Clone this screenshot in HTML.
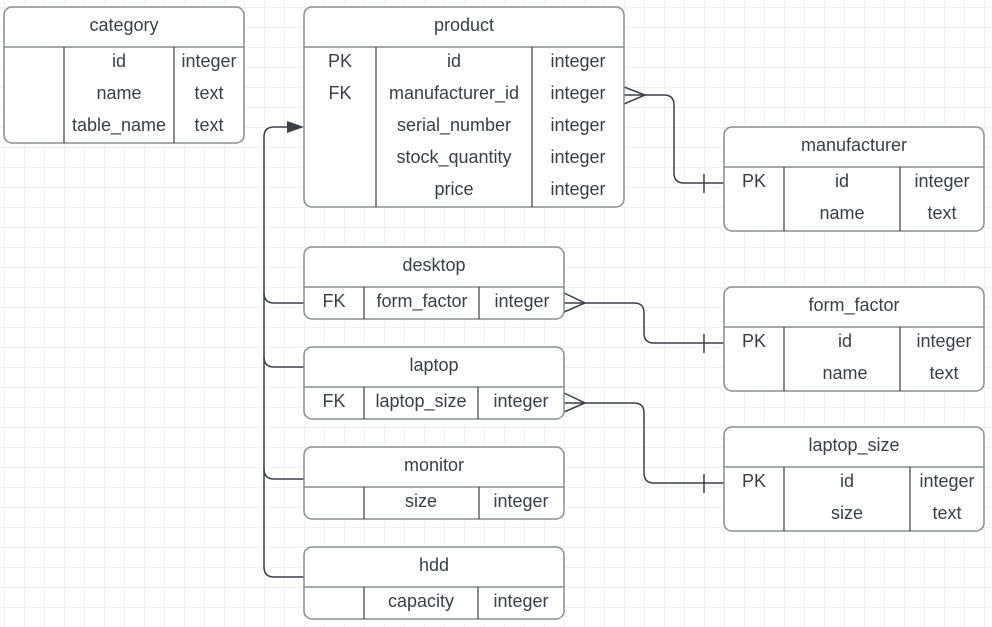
<!DOCTYPE html>
<html><head><meta charset="utf-8"><style>
html,body{margin:0;padding:0;background:#fff;}
svg{display:block;font-family:"Liberation Sans",sans-serif;}
text{fill:#3a3e47;font-size:18px;text-anchor:middle;}
</style></head><body>
<svg width="992" height="627" viewBox="0 0 992 627" xmlns="http://www.w3.org/2000/svg">
<defs>
<pattern id="g" x="4" y="7" width="20" height="20" patternUnits="userSpaceOnUse">
<path d="M0 0H20M0 0V20" stroke="#e3e3e3" stroke-width="1" fill="none"/>
</pattern>
</defs>
<rect width="992" height="627" fill="url(#g)"/>

<g fill="none" stroke="#3a3e47" stroke-width="1.5">
<path d="M296 127H274Q264 127 264 137V567Q264 577 274 577H304"/>
<path d="M264 293Q264 303 274 303H304"/>
<path d="M264 357Q264 367 274 367H304"/>
<path d="M264 469Q264 479 274 479H304"/>
<path d="M624 95H664Q674 95 674 105V173Q674 183 684 183H724"/>
<path d="M624 87L645 95L624 104"/>
<path d="M704 174V193"/>
<path d="M564 303H634Q644 303 644 313V333Q644 343 654 343H724"/>
<path d="M564 293L585 303L564 312"/>
<path d="M704 334V353"/>
<path d="M564 403H634Q644 403 644 413V473Q644 483 654 483H724"/>
<path d="M564 393L585 403L564 412"/>
<path d="M704 474V493"/>
</g>
<path d="M287 121L304 127L287 133Z" fill="#3a3e47"/>

<g fill="#fff" stroke="#8a8d92" stroke-width="1.5">
<rect x="4" y="7" width="240" height="136" rx="8"/>
<rect x="304" y="7" width="320" height="200" rx="8"/>
<rect x="724" y="127" width="260" height="104" rx="8"/>
<rect x="304" y="247" width="260" height="72" rx="8"/>
<rect x="724" y="287" width="260" height="104" rx="8"/>
<rect x="304" y="347" width="260" height="72" rx="8"/>
<rect x="724" y="427" width="260" height="104" rx="8"/>
<rect x="304" y="447" width="260" height="72" rx="8"/>
<rect x="304" y="547" width="260" height="72" rx="8"/>
<path d="M4 47H244M304 47H624M724 167H984M304 287H564M724 327H984M304 387H564M724 467H984M304 487H564M304 587H564"/>
</g>
<g stroke="#3a3e47" stroke-width="1.2">
<path d="M64 47V143M174 47V143"/>
<path d="M376 47V207M532 47V207"/>
<path d="M784 167V231M900 167V231"/>
<path d="M364 287V319M479 287V319"/>
<path d="M784 327V391M900 327V391"/>
<path d="M364 387V419M478 387V419"/>
<path d="M784 467V531M910 467V531"/>
<path d="M364 487V519M479 487V519"/>
<path d="M364 587V619M478 587V619"/>
</g>

<text x="124" y="31">category</text>
<text x="119" y="67">id</text><text x="209" y="67">integer</text>
<text x="119" y="99">name</text><text x="209" y="99">text</text>
<text x="119" y="131">table_name</text><text x="209" y="131">text</text>

<text x="464" y="31">product</text>
<text x="340" y="67">PK</text><text x="454" y="67">id</text><text x="578" y="67">integer</text>
<text x="340" y="99">FK</text><text x="454" y="99">manufacturer_id</text><text x="578" y="99">integer</text>
<text x="454" y="131">serial_number</text><text x="578" y="131">integer</text>
<text x="454" y="163">stock_quantity</text><text x="578" y="163">integer</text>
<text x="454" y="195">price</text><text x="578" y="195">integer</text>

<text x="854" y="151">manufacturer</text>
<text x="754" y="187">PK</text><text x="842" y="187">id</text><text x="942" y="187">integer</text>
<text x="842" y="219">name</text><text x="942" y="219">text</text>

<text x="434" y="271">desktop</text>
<text x="334" y="307">FK</text><text x="422" y="307">form_factor</text><text x="522" y="307">integer</text>

<text x="854" y="311">form_factor</text>
<text x="754" y="347">PK</text><text x="845" y="347">id</text><text x="944" y="347">integer</text>
<text x="845" y="379">name</text><text x="944" y="379">text</text>

<text x="434" y="371">laptop</text>
<text x="334" y="407">FK</text><text x="421" y="407">laptop_size</text><text x="521" y="407">integer</text>

<text x="854" y="451">laptop_size</text>
<text x="754" y="487">PK</text><text x="847" y="487">id</text><text x="947" y="487">integer</text>
<text x="847" y="519">size</text><text x="947" y="519">text</text>

<text x="434" y="471">monitor</text>
<text x="421" y="507">size</text><text x="521" y="507">integer</text>

<text x="434" y="571">hdd</text>
<text x="421" y="607">capacity</text><text x="521" y="607">integer</text>
</svg>
</body></html>
